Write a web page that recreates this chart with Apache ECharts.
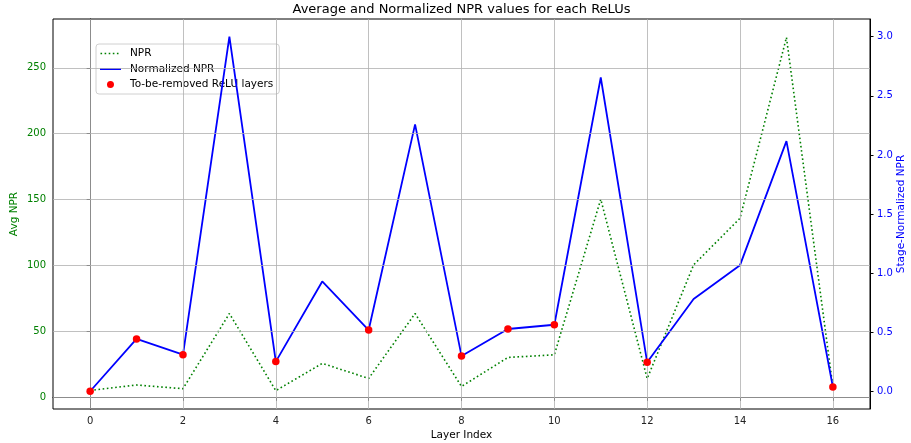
<!DOCTYPE html>
<html>
<head>
<meta charset="utf-8">
<script src="https://cdn.jsdelivr.net/npm/echarts@6/dist/echarts.min.js"></script>
<style>
html,body{margin:0;padding:0;background:#fff;}
#chart{width:911px;height:443px;}
</style>
</head>
<body>
<div id="chart"></div>
<script>
// ---- data ----
const layers = [0,1,2,3,4,5,6,7,8,9,10,11,12,13,14,15,16];
const avgNPR = [5.3, 9.4, 6.6, 63.6, 5.1, 25.8, 14.4, 63.6, 8.3, 30.3, 32.3, 150.3, 14.2, 100.5, 135.9, 273.0, 8.0];
const normNPR = [0.0, 0.443, 0.31, 3.0, 0.251, 0.929, 0.518, 2.258, 0.299, 0.527, 0.563, 2.655, 0.245, 0.78, 1.067, 2.117, 0.037];
const removedLayers = [0,1,2,4,6,8,9,10,12,16];
const xTicks = [0,2,4,6,8,10,12,14,16];
const leftTicks = [0,50,100,150,200,250];
const rightTicks = [0,0.5,1.0,1.5,2.0,2.5,3.0];

const FONT = 'DejaVu Sans';
const GREEN = '#008000';
const BLUE = '#0000ff';

// legend icon shapes (box 21 x 11)
const ICON_DOTTED = 'path://M0 0M21 11M0.5 4.7h1.6v1.6h-1.6zM4.6 4.7h1.6v1.6h-1.6zM8.7 4.7h1.6v1.6h-1.6zM12.8 4.7h1.6v1.6h-1.6zM16.9 4.7h1.6v1.6h-1.6z';
const ICON_SOLID = 'path://M0 0M21 11M0 4.5h21v2h-21z';
const ICON_DOT = 'path://M0 0M21 11M10.5 2A3.5 3.5 0 1 1 10.49 2Z';

const chart = echarts.init(document.getElementById('chart'), null, {renderer:'canvas'});
const option = {
  animation: false,
  backgroundColor: '#fff',
  title: {
    text: 'Average and Normalized NPR values for each ReLUs',
    left: 461.5, top: 3, textAlign: 'center', padding: 0,
    textStyle: {fontFamily: FONT, fontSize: 13, fontWeight: 'normal', color: '#000'}
  },
  legend: {
    orient: 'vertical', left: 96, top: 44,
    padding: [4, 6, 4, 4],
    itemGap: 4.5, itemWidth: 21, itemHeight: 11,
    borderColor: '#d0d0d0', borderWidth: 1, borderRadius: 3,
    backgroundColor: 'rgba(255,255,255,0.85)',
    textStyle: {fontFamily: FONT, fontSize: 10.5, color: '#000', padding: [0,0,0,4]},
    data: [
      {name: 'NPR', icon: ICON_DOTTED, itemStyle: {color: GREEN}},
      {name: 'Normalized NPR', icon: ICON_SOLID, itemStyle: {color: BLUE}},
      {name: 'To-be-removed ReLU layers', icon: ICON_DOT, itemStyle: {color: '#ff0000'}}
    ]
  },
  grid: {left: 53, right: 41, top: 19, bottom: 34, show: true, borderColor: '#000', borderWidth: 1,
         containLabel: false, outerBoundsMode: 'none'},
  xAxis: {
    type: 'value', min: -0.8, max: 16.8,
    axisLine: {show: true, lineStyle: {color: '#000', width: 1}},
    axisTick: {show: true, customValues: xTicks, length: 3.5, lineStyle: {color: '#000'}},
    axisLabel: {customValues: xTicks, margin: 7, color: '#222', fontSize: 10, fontFamily: FONT},
    splitLine: {show: false},
    name: 'Layer Index', nameLocation: 'middle', nameGap: 21, nameMoveOverlap: false,
    nameTextStyle: {fontFamily: FONT, fontSize: 10.5, color: '#000'}
  },
  yAxis: [
    {
      type: 'value', position: 'left', min: -8.8, max: 287,
      axisLine: {show: true, lineStyle: {color: '#000', width: 1}},
      axisTick: {show: true, customValues: leftTicks, length: 3.5, lineStyle: {color: '#000'}},
      axisLabel: {customValues: leftTicks, margin: 7, color: GREEN, fontSize: 10, fontFamily: FONT},
      splitLine: {show: false},
      name: 'Avg NPR', nameLocation: 'middle', nameGap: 33, nameRotate: 90, nameMoveOverlap: false,
      nameTextStyle: {fontFamily: FONT, fontSize: 10.5, color: GREEN}
    },
    {
      type: 'value', position: 'right', min: -0.15, max: 3.15,
      axisLine: {show: true, lineStyle: {color: '#000', width: 1}},
      axisTick: {show: true, customValues: rightTicks, length: 3.5, lineStyle: {color: '#000'}},
      axisLabel: {customValues: rightTicks, margin: 7, color: BLUE, fontSize: 10, fontFamily: FONT,
                  formatter: v => Number(v).toFixed(1)},
      splitLine: {show: false},
      name: 'Stage-Normalized NPR', nameLocation: 'middle', nameGap: 26, nameRotate: 90, nameMoveOverlap: false,
      nameTextStyle: {fontFamily: FONT, fontSize: 10.5, color: BLUE}
    }
  ],
  series: [
    {
      name: 'gridlines', type: 'line', data: [], yAxisIndex: 0, z: 1, silent: true,
      markLine: {
        silent: true, symbol: 'none', label: {show: false}, animation: false,
        lineStyle: {color: '#b0b0b0', width: 0.8, type: 'solid'},
        emphasis: {disabled: true},
        data: xTicks.map(v => ({xAxis: v})).concat(leftTicks.map(v => ({yAxis: v})))
      }
    },
    {
      name: 'NPR', type: 'line', yAxisIndex: 0, z: 3,
      data: layers.map((x, i) => [x, avgNPR[i]]),
      symbol: 'none', color: GREEN,
      lineStyle: {color: GREEN, width: 1.6, type: [1.6, 2.6], cap: 'butt'}
    },
    {
      name: 'Normalized NPR', type: 'line', yAxisIndex: 1, z: 4,
      data: layers.map((x, i) => [x, normNPR[i]]),
      symbol: 'none', color: BLUE,
      lineStyle: {color: BLUE, width: 1.8}
    },
    {
      name: 'To-be-removed ReLU layers', type: 'scatter', yAxisIndex: 1, z: 5,
      data: removedLayers.map(i => [layers[i], normNPR[i]]),
      symbol: 'circle', symbolSize: 7.5, itemStyle: {color: '#ff0000', opacity: 1}
    }
  ]
};
chart.setOption(option);
</script>
</body>
</html>
